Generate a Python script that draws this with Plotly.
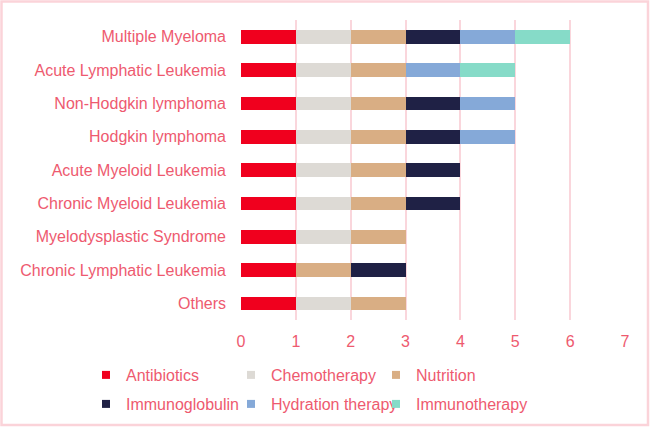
import plotly.graph_objects as go

categories = ["Multiple Myeloma", "Acute Lymphatic Leukemia", "Non-Hodgkin lymphoma",
              "Hodgkin lymphoma", "Acute Myeloid Leukemia", "Chronic Myeloid Leukemia",
              "Myelodysplastic Syndrome", "Chronic Lymphatic Leukemia", "Others"]
antibiotics     = [1, 1, 1, 1, 1, 1, 1, 1, 1]
chemotherapy    = [1, 1, 1, 1, 1, 1, 1, 0, 1]
nutrition       = [1, 1, 1, 1, 1, 1, 1, 1, 1]
immunoglobulin  = [1, 0, 1, 1, 1, 1, 0, 1, 0]
hydration       = [1, 1, 1, 1, 0, 0, 0, 0, 0]
immunotherapy   = [1, 1, 0, 0, 0, 0, 0, 0, 0]
x_ticks = [0, 1, 2, 3, 4, 5, 6, 7]

series_names = ["Antibiotics", "Chemotherapy", "Nutrition",
                "Immunoglobulin", "Hydration therapy", "Immunotherapy"]
series_values = [antibiotics, chemotherapy, nutrition, immunoglobulin, hydration, immunotherapy]
series_colors = ["#F0001E", "#DDDAD5", "#D9AE84", "#1F2145", "#85A9D8", "#86DBC8"]

TXT = "#EE5A6F"
GRID = "#FAD6DC"
FONT = "Liberation Sans, Arial, sans-serif"

W, H = 651, 427
L, R, T, B = 241, 26, 20, 107
pw, ph = W - L - R, H - T - B

def px_x(p):
    return (p - L) / pw

def px_y(p):
    return (H - B - p) / ph

fig = go.Figure()
for name, vals, color in zip(series_names, series_values, series_colors):
    fig.add_trace(go.Bar(
        y=categories, x=vals, orientation="h", name=name,
        marker=dict(color=color, line=dict(width=0)),
        showlegend=False, width=0.41,
    ))

legend_layout = {}
col_x = [86, 231, 376]
row_y = [375, 404]
for i, (name, color) in enumerate(zip(series_names, series_colors)):
    key = "legend" if i == 0 else f"legend{i + 1}"
    fig.add_trace(go.Scatter(
        x=[None], y=[None], mode="markers", name=name,
        marker=dict(symbol="square", size=8, color=color),
        legend=key, showlegend=True,
    ))
    legend_layout[key] = dict(
        orientation="v", xref="paper", yref="paper",
        x=px_x(col_x[i % 3]), xanchor="left",
        y=px_y(row_y[i // 3]), yanchor="middle",
        font=dict(family=FONT, size=16, color=TXT),
        bgcolor="rgba(0,0,0,0)", borderwidth=0, itemwidth=30,
    )

fig.update_layout(
    width=W, height=H,
    margin=dict(l=L, r=R, t=T, b=B, pad=0, autoexpand=False),
    barmode="stack",
    paper_bgcolor="white", plot_bgcolor="white",
    font=dict(family=FONT, size=16, color=TXT),
    xaxis=dict(range=[0, 7], tickvals=x_ticks, showgrid=True, gridcolor=GRID,
               gridwidth=1.5, zeroline=False, showline=False,
               ticks="", ticklabelstandoff=10, automargin=False,
               tickfont=dict(family=FONT, size=16, color=TXT)),
    yaxis=dict(categoryorder="array", categoryarray=categories, autorange="reversed",
               showgrid=False, zeroline=False, showline=False, ticks="",
               ticklabelstandoff=14, automargin=False,
               tickfont=dict(family=FONT, size=16, color=TXT)),
    shapes=[dict(type="rect", xref="paper", yref="paper",
                 x0=px_x(1.5), x1=px_x(648), y0=px_y(425), y1=px_y(1.5),
                 line=dict(color="#FBD3D9", width=2.5), fillcolor="rgba(0,0,0,0)",
                 layer="below")],
    **legend_layout,
)

fig.write_html("out.html")
